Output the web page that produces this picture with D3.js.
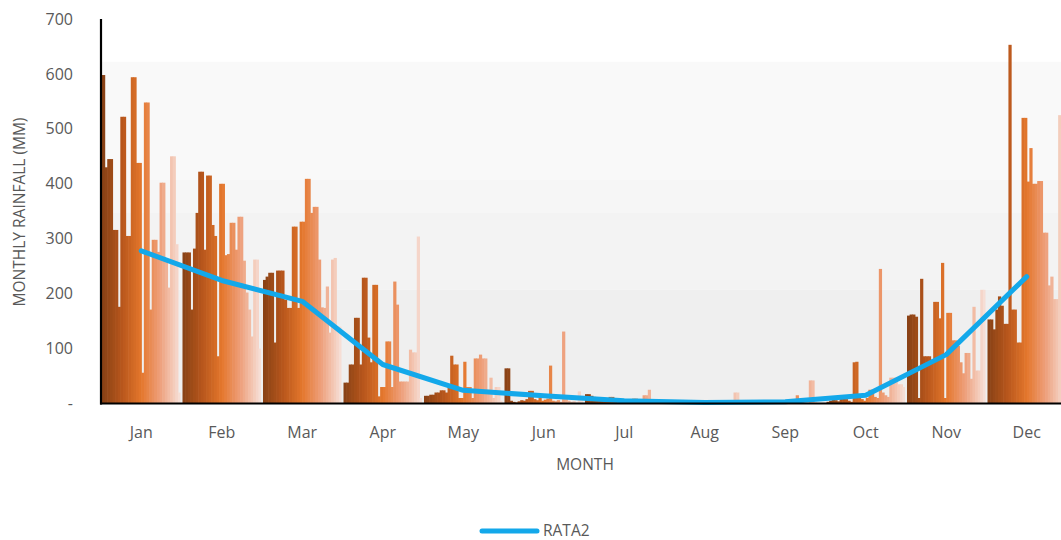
<!DOCTYPE html>
<html>
<head>
<meta charset="utf-8">
<script src="https://cdn.jsdelivr.net/npm/d3@7/dist/d3.min.js"></script>
<style>
  html, body { margin: 0; padding: 0; background: #ffffff; overflow: hidden; }
  svg { display: block; font-family: "Open Sans", "Liberation Sans", sans-serif; }
</style>
</head>
<body>
<svg id="chart" width="1061" height="540"></svg>
<script>
// ---- data ----
const months = ["Jan","Feb","Mar","Apr","May","Jun","Jul","Aug","Sep","Oct","Nov","Dec"];
const yTicks = [0, 100, 200, 300, 400, 500, 600, 700];
const yTickLabels = ["-", "100", "200", "300", "400", "500", "600", "700"];

// 30 series (one per year), values per month in series order
const janValues = [598, 430, 445, 445, 316, 316, 176, 522, 522, 305, 305, 594, 594, 438, 438, 56, 548, 548, 171, 298, 298, 276, 402, 402, 262, 211, 450, 450, 290, 20];
const febValues = [275, 275, 275, 171, 282, 347, 422, 422, 280, 415, 415, 325, 305, 86, 400, 400, 270, 272, 329, 329, 280, 340, 340, 260, 202, 171, 122, 262, 262, 100];
const marValues = [225, 231, 238, 238, 111, 242, 242, 242, 189, 174, 174, 322, 322, 174, 331, 331, 409, 409, 347, 358, 358, 262, 175, 174, 213, 129, 262, 265, 140, 140];
const aprValues = [38, 38, 71, 71, 156, 156, 71, 229, 229, 120, 75, 216, 216, 13, 30, 30, 113, 113, 30, 222, 180, 40, 40, 40, 40, 98, 93, 93, 304, 10];
const mayValues = [14, 14, 16, 16, 20, 20, 24, 24, 20, 30, 87, 71, 71, 10, 10, 76, 30, 30, 10, 82, 82, 89, 82, 82, 25, 47, 10, 30, 30, 5];
const junValues = [64, 64, 5, 3, 2, 4, 6, 5, 8, 23, 23, 8, 6, 10, 5, 7, 9, 69, 5, 4, 6, 3, 131, 10, 5, 3, 4, 2, 22, 10];
const julValues = [17, 17, 14, 12, 10, 8, 6, 4, 3, 12, 12, 3, 2, 1, 2, 1, 0, 1, 9, 9, 2, 1, 15, 15, 25, 8, 3, 2, 1, 1];
const augValues = [1, 0, 0, 1, 0, 0, 0, 1, 0, 0, 0, 0, 1, 0, 0, 0, 0, 5, 5, 0, 0, 1, 0, 0, 0, 0, 20, 20, 1, 0];
const sepValues = [0, 0, 1, 0, 0, 0, 3, 3, 0, 1, 0, 0, 0, 1, 0, 0, 2, 1, 0, 15, 4, 2, 1, 0, 42, 42, 2, 1, 0, 0];
const octValues = [3, 5, 8, 6, 4, 10, 12, 8, 5, 3, 75, 76, 10, 8, 5, 10, 25, 25, 12, 10, 245, 20, 15, 12, 47, 47, 47, 35, 35, 30];
const novValues = [160, 162, 162, 158, 10, 227, 86, 86, 86, 80, 185, 185, 155, 256, 10, 165, 165, 115, 115, 105, 75, 55, 92, 92, 45, 176, 60, 60, 207, 207];
const decValues = [153, 153, 135, 171, 195, 178, 145, 145, 653, 171, 171, 111, 111, 520, 520, 404, 465, 400, 400, 405, 405, 311, 311, 215, 231, 190, 190, 525, 500, 300];

const rata2 = [278, 224, 186, 71, 24, 14, 5, 2, 3, 15, 89, 231];

const monthValues = [janValues, febValues, marValues, aprValues, mayValues, junValues,
                     julValues, augValues, sepValues, octValues, novValues, decValues];

// ---- layout ----
const svg = d3.select("#chart");
const plot = { left: 101, top: 19, bottom: 403.5, right: 1067 };

const y = d3.scaleLinear().domain([0, 700]).range([plot.bottom, plot.top]);
const x0 = d3.scaleBand().domain(months).range([plot.left, plot.right]).paddingInner(0).paddingOuter(0);
const nSeries = janValues.length;
const seriesIdx = d3.range(nSeries);
const x1 = d3.scaleBand().domain(seriesIdx).range([1, x0.bandwidth() - 1]).padding(0);

const colorInterp = d3.piecewise(d3.interpolateRgb, ["#8a4216", "#b9571c", "#e4772c", "#eea07c", "#f6ded5"]);
const color = d3.scaleSequential(colorInterp).domain([0, nSeries - 1]);

// background bands (gradient-like plot fill)
const bgBands = [
  { from: 622, to: 700, fill: "#ffffff" },
  { from: 407, to: 622, fill: "#f9f9f9" },
  { from: 348, to: 407, fill: "#f6f6f6" },
  { from: 207, to: 348, fill: "#f3f3f3" },
  { from: 0,   to: 207, fill: "#efefef" }
];
svg.append("g").selectAll("rect").data(bgBands).join("rect")
  .attr("x", plot.left)
  .attr("width", plot.right - plot.left)
  .attr("y", d => y(d.to))
  .attr("height", d => y(d.from) - y(d.to))
  .attr("fill", d => d.fill);

// bars (slightly overlapped so adjacent bars don't show seams)
const groups = svg.append("g").selectAll("g").data(months).join("g")
  .attr("transform", d => `translate(${x0(d)},0)`);
groups.selectAll("rect")
  .data((m, i) => monthValues[i].map((v, k) => ({ k, v })))
  .join("rect")
  .attr("x", d => x1(d.k))
  .attr("width", d => x1.bandwidth() + (d.k < nSeries - 1 ? 0.6 : 0))
  .attr("y", d => y(d.v))
  .attr("height", d => y(0) - y(d.v))
  .attr("fill", d => color(d.k));

// RATA2 line
const line = d3.line()
  .x((d, i) => x0(months[i]) + x0.bandwidth() / 2)
  .y(d => y(d));
svg.append("path")
  .datum(rata2)
  .attr("d", line)
  .attr("fill", "none")
  .attr("stroke", "#13a8ea")
  .attr("stroke-width", 5)
  .attr("stroke-linejoin", "round")
  .attr("stroke-linecap", "round");

// axes lines
svg.append("line")
  .attr("x1", plot.left).attr("x2", plot.left)
  .attr("y1", y(700)).attr("y2", y(0) + 1)
  .attr("stroke", "#000").attr("stroke-width", 2.2);
svg.append("line")
  .attr("x1", plot.left - 1).attr("x2", 1061)
  .attr("y1", y(0)).attr("y2", y(0))
  .attr("stroke", "#000").attr("stroke-width", 2.2);

// y tick labels
svg.append("g").selectAll("text").data(yTicks).join("text")
  .attr("x", 73)
  .attr("y", d => y(d))
  .attr("dy", "0.35em")
  .attr("text-anchor", "end")
  .attr("font-size", 16)
  .attr("fill", "#595959")
  .text((d, i) => yTickLabels[i]);

// x tick labels
svg.append("g").selectAll("text").data(months).join("text")
  .attr("x", d => x0(d) + x0.bandwidth() / 2)
  .attr("y", 432)
  .attr("dy", "0.35em")
  .attr("text-anchor", "middle")
  .attr("font-size", 16)
  .attr("fill", "#595959")
  .text(d => d);

// axis titles
svg.append("text")
  .attr("x", 585).attr("y", 465).attr("dy", "0.35em")
  .attr("text-anchor", "middle")
  .attr("font-size", 15.5)
  .attr("fill", "#595959")
  .text("MONTH");
svg.append("text")
  .attr("transform", "translate(20,212) rotate(-90)")
  .attr("dy", "0.35em")
  .attr("text-anchor", "middle")
  .attr("font-size", 15.5)
  .attr("fill", "#595959")
  .text("MONTHLY RAINFALL (MM)");

// legend
const legend = svg.append("g").attr("transform", "translate(480,531)");
legend.append("line")
  .attr("x1", 2).attr("x2", 57).attr("y1", 0).attr("y2", 0)
  .attr("stroke", "#13a8ea").attr("stroke-width", 5).attr("stroke-linecap", "round");
legend.append("text")
  .attr("x", 63).attr("y", 0).attr("dy", "0.35em")
  .attr("font-size", 15.5).attr("fill", "#595959")
  .text("RATA2");
</script>
</body>
</html>
